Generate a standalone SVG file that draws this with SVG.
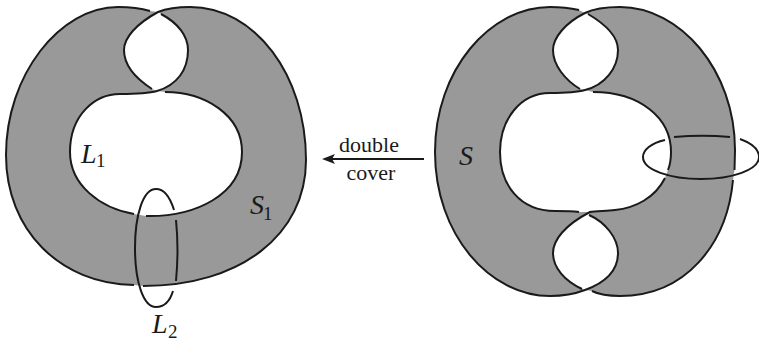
<svg xmlns="http://www.w3.org/2000/svg" width="759" height="342" viewBox="0 0 759 342">
<style>
.s{fill:none;stroke:#1a1a1a;stroke-width:2;stroke-linecap:butt}
.g{fill:#999;fill-rule:evenodd;stroke:none}
.t{font-family:"Liberation Serif",serif;fill:#1a1a1a}
.i{font-style:italic;font-size:28px}
.n{font-size:19px}
.w{font-size:22px}
</style>
<defs><path id="a" d="M0,0 L13,-5 L10,0 L13,5 Z" fill="#1a1a1a"/></defs>
<g id="surface-s1">
<path class="g" d="M150,11 C140,8 128,7 118,7 C60,7 6,75 6,155 C6,230 60,284 134,285 L143,286 C240,286 306,235 306,160 C306,75 255,7 190,7 C180,7 168,8 158,12 Z M158,12 C136,24 124,38 124,50 C124,65 135,78 152,89 L157,91 C177,85 188,70 188,50 C188,36 178,23 161,14 Z M157,91 C150,93 135,94 120,94 C95,94 70,115 70,152 C70,185 100,208 134,214 L146,216 C195,217 242,195 242,152 C242,115 205,92 165,92 Z"/>
<path class="s" d="M150,11 C140,8 128,7 118,7 C60,7 6,75 6,155 C6,230 60,284 134,285"/>
<path class="s" d="M152,89 C135,78 124,65 124,50 C124,38 136,24 158,12 C168,8 180,7 190,7 C255,7 306,75 306,160 C306,235 240,286 143,286"/>
<path class="s" d="M161,14 C178,23 188,36 188,50 C188,70 177,85 157,91 C150,93 135,94 120,94 C95,94 70,115 70,152 C70,185 100,208 134,214"/>
<path class="s" d="M165,92 C205,92 242,115 242,152 C242,195 195,217 146,216"/>
</g>
<g id="loop-l2">
<path class="s" d="M174,210 C170,197 164,189 156,189 C143,189 135,215 135,248 C135,281 143,307 156,307 C164,307 170,301 173,291"/>
<path class="s" d="M176,220 C178,240 178,260 176,281"/>
</g>
<g id="surface-s">
<path class="g" d="M579,10 C570,8 560,7 550,7 C490,7 435,70 435,152 C435,235 490,296 550,296 C560,296 572,295 585,290 L592,291 C600,295 610,296 620,296 C685,296 727,245 733,180 L734.500,170 L735,150 C735,70 680,7 620,7 C610,7 595,8 585,13 Z M585,13 C565,23 553,38 553,50 C553,65 565,80 580,89 L585,90 C605,85 618,68 618,50 C618,36 605,24 588,14 Z M585,90 C575,93 562,93 550,93 C520,93 500,120 500,152 C500,185 520,211 555,211 C565,211 572,211 579,212 L590,212 C595,211 605,211 615,210 C635,208 655,198 665,178 L668,170 C670,165 671,158 671,152 C671,118 640,92 593,92 Z M590,212 C565,225 553,240 553,253 C553,268 565,281 582,289 L585,290 C607,282 618,270 618,253 C618,238 605,222 589,215 Z"/>
<path class="s" d="M579,10 C570,8 560,7 550,7 C490,7 435,70 435,152 C435,235 490,296 550,296 C560,296 572,295 585,290 C607,282 618,270 618,253 C618,238 605,222 589,215"/>
<path class="s" d="M580,89 C565,80 553,65 553,50 C553,38 565,23 585,13 C595,8 610,7 620,7 C680,7 735,70 735,150 L734.500,170"/>
<path class="s" d="M733,180 C727,245 685,296 620,296 C610,296 600,295 592,291"/>
<path class="s" d="M588,14 C605,24 618,36 618,50 C618,68 605,85 585,90 C575,93 562,93 550,93 C520,93 500,120 500,152 C500,185 520,211 555,211 C565,211 572,211 579,212"/>
<path class="s" d="M593,92 C640,92 671,118 671,152 C671,158 670,165 668,170"/>
<path class="s" d="M665,178 C655,198 635,208 615,210 C605,211 595,211 590,212 C565,225 553,240 553,253 C553,268 565,281 582,289"/>
</g>
<g id="loop-ring">
<path class="s" d="M665,140 C651,143 643,150 643,157 C643,170 670,179 701,179 C732,179 759,170 759,157 C759,149 751,143 740,139"/>
<path class="s" d="M674,137 C690,135.500 715,135.500 730,137"/>
</g>
<g id="connectors">
<path class="s" d="M424,159 L330,159"/>
<use href="#a" x="322" y="159"/>
</g>
<g id="labels">
<text class="t i" x="81" y="163">L</text><text class="t n" x="96" y="167">1</text>
<text class="t i" x="250" y="214">S</text><text class="t n" x="263" y="220">1</text>
<text class="t i" x="152" y="333">L</text><text class="t n" x="168" y="338">2</text>
<text class="t i" x="459" y="165">S</text>
<text class="t w" x="369" y="152" text-anchor="middle">double</text>
<text class="t w" x="371" y="180" text-anchor="middle">cover</text>
</g>
</svg>
